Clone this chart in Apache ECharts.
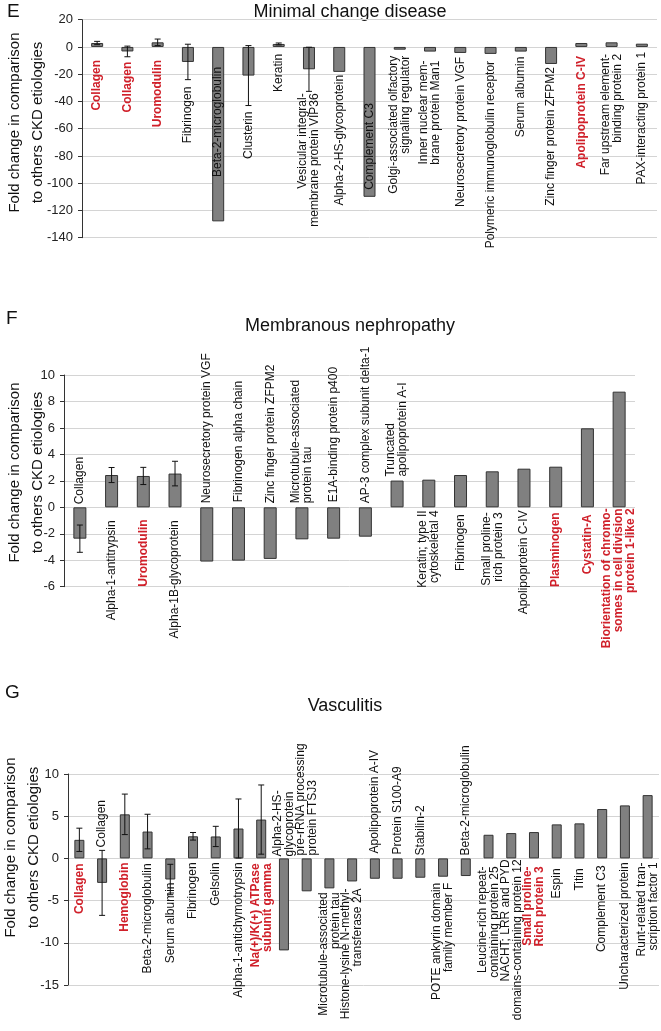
<!DOCTYPE html>
<html><head><meta charset="utf-8">
<script src="https://cdn.jsdelivr.net/npm/echarts@6/dist/echarts.min.js"></script>
<style>html,body{margin:0;padding:0;background:#fff}#c{width:661px;height:1031px}</style>
</head><body><div id="c"></div>
<script>
// ---------- Panel E: Minimal change disease ----------
const eCategories = ['Collagen','Collagen','Uromodulin','Fibrinogen','Beta-2-microglobulin','Clusterin','Keratin',
  'Vesicular integral-\nmembrane protein VIP36','Alpha-2-HS-glycoprotein','Complement C3',
  'Golgi-associated olfactory\nsignaling regulator','Inner nuclear mem-\nbrane protein Man1',
  'Neurosecretory protein VGF','Polymeric immunoglobulin receptor','Serum albumin','Zinc finger protein ZFPM2',
  'Apolipoprotein C-IV','Far upstream element-\nbinding protein 2','PAX-interacting protein 1'];
const eValues = [2.9, -3.3, 3.4, -11, -128, -21, 2.2, -16.4, -18.3, -110, -2, -3.4, -4.4, -5.1, -3.4, -12.5, 2.9, 3.4, 2.4];
const eErrors = [1.2, 3.9, 2.4, 13, 0, 22, 0.7, 16.2, 0, 0, 0, 0, 0, 0, 0, 0, 0, 0, 0];
const eRed = [0, 1, 2, 16];
const eTicks = {min: -140, max: 20, interval: 20};

// ---------- Panel F: Membranous nephropathy ----------
const fCategories = ['Collagen','Alpha-1-antitrypsin','Uromodulin','Alpha-1B-glycoprotein','Neurosecretory protein VGF',
  'Fibrinogen alpha chain','Zinc finger protein ZFPM2','Microtubule-associated\nprotein tau','E1A-binding protein p400',
  'AP-3 complex subunit delta-1','Truncated\napolipoprotein A-I','Keratin; type II\ncytoskeletal 4','Fibrinogen',
  'Small proline-\nrich protein 3','Apolipoprotein C-IV','Plasminogen','Cystatin-A',
  'Biorientation of chromo-\nsomes in cell division\nprotein 1-like 2'];
const fValues = [-2.37, 2.44, 2.37, 2.55, -4.1, -4.03, -3.9, -2.42, -2.37, -2.22, 2.02, 2.09, 2.44, 2.72, 2.92, 3.07, 5.97, 8.74];
const fErrors = [1.03, 0.57, 0.65, 0.93, 0, 0, 0, 0, 0, 0, 0, 0, 0, 0, 0, 0, 0, 0];
const fRed = [2, 15, 16, 17];
const fTicks = {min: -6, max: 10, interval: 2};

// ---------- Panel G: Vasculitis ----------
const gCategories = ['Collagen','Collagen','Hemoglobin','Beta-2-microglobulin','Serum albumin','Fibrinogen','Gelsolin',
  'Alpha-1-antichymotrypsin','Na(+)/K(+) ATPase\nsubunit gamma','Alpha-2-HS-\nglycoprotein',
  'pre-rRNA processing\nprotein FTSJ3','Microtubule-associated\nprotein tau','Histone-lysine N-methyl-\ntransferase 2A',
  'Apolipoprotein A-IV','Protein S100-A9','Stabilin-2','POTE ankyrin domain\nfamily member F','Beta-2-microglobulin',
  'Leucine-rich repeat-\ncontaining protein 25','NACHT; LRR and PYD\ndomains-containing protein 12',
  'Small proline-\nRich protein 3','Espin','Titin','Complement C3','Uncharacterized protein',
  'Runt-related tran-\nscription factor 1'];
const gValues = [2.2, -2.9, 5.22, 3.18, -2.5, 2.62, 2.6, 3.54, 4.6, -10.9, -3.9, -3.55, -2.73, -2.41, -2.41, -2.29, -2.17, -2.09, 2.8, 3.0, 3.12, 4.03, 4.15, 5.85, 6.28, 7.5];
const gErrors = [1.38, 3.85, 2.4, 2.05, 1.8, 0.45, 1.2, 3.5, 4.1, 0, 0, 0, 0, 0, 0, 0, 0, 0, 0, 0, 0, 0, 0, 0, 0, 0];
const gRed = [0, 2, 8, 20];
const gTicks = {min: -15, max: 10, interval: 5};

// ---------- label placement (layout only) ----------
const ePlace = ['b0:13','bEnd:5','b0:13','bEnd:7','inTop:20','bEnd:6','b0:7','bEnd:2','bEnd:3','inBot:7',
  'bEnd:6','bEnd:9','bEnd:4','bEnd:7','bEnd:5','bEnd:3','b0:9','b0:7','b0:5'];
const fPlace = ['a0:3','b0:13','b0:12','b0:13','a0:4','a0:5','a0:4','a0:4','a0:5','a0:4','aEnd:4',
  'b0:3','b0:7','b0:5','b0:3','b0:5','b0:7','b0:1'];
const gPlace = ['b0:5','aEnd:3','b0:4','b0:5','bBar:3','b0:4','b0:4','b0:4','b0:5','a0:2','a0:3','bBar:4','bBar:7',
  'a0:5','a0:4','a0:3','bBar:6','a0:3','b0:8','b0:1','b0:8','b0:10','b0:10','b0:7','b0:4','b0:4'];

const RED = '#d0202a';
const FONT = '"Liberation Sans", Arial, Helvetica, sans-serif';

function errorRender(values, errors) {
  return function (params, api) {
    const i = params.dataIndex;
    const e = errors[i];
    if (!e) return null;
    const v = values[i];
    const hi = api.coord([i, v + e]);
    const lo = api.coord([i, v - e]);
    const cw = 3;
    const st = {stroke: '#111', lineWidth: 1};
    return {type: 'group', children: [
      {type: 'line', shape: {x1: hi[0], y1: hi[1], x2: lo[0], y2: lo[1]}, style: st},
      {type: 'line', shape: {x1: hi[0] - cw, y1: hi[1], x2: hi[0] + cw, y2: hi[1]}, style: st},
      {type: 'line', shape: {x1: lo[0] - cw, y1: lo[1], x2: lo[0] + cw, y2: lo[1]}, style: st}
    ]};
  };
}

function labelRender(cats, values, errors, place, red) {
  return function (params, api) {
    const i = params.dataIndex;
    const v = values[i], e = errors[i] || 0;
    const p0 = api.coord([i, 0]);
    const x = p0[0], y0 = p0[1];
    const yEnd = api.coord([i, v])[1];
    const yLow = api.coord([i, Math.min(v, v - e, 0)])[1];
    const yHigh = api.coord([i, Math.max(v, v + e, 0)])[1];
    const parts = place[i].split(':');
    const m = parts[0], g = +parts[1];
    let y, align;
    if (m === 'b0') { y = y0 + g; align = 'right'; }
    else if (m === 'bEnd') { y = yLow + g; align = 'right'; }
    else if (m === 'bBar') { y = Math.max(yEnd, y0) + g; align = 'right'; }
    else if (m === 'a0') { y = y0 - g; align = 'left'; }
    else if (m === 'aEnd') { y = yHigh - g; align = 'left'; }
    else if (m === 'inTop') { y = y0 + g; align = 'right'; }
    else { y = yEnd - g; align = 'left'; }
    const isRed = red.indexOf(i) >= 0;
    return {type: 'text', x: x, y: y, rotation: Math.PI / 2, style: {
      text: cats[i], align: align, verticalAlign: 'middle',
      fill: isRed ? RED : '#111', fontSize: 12, fontWeight: isRed ? 'bold' : 'normal',
      fontFamily: FONT, lineHeight: 12
    }};
  };
}

const panels = [
  {cats: eCategories, vals: eValues, errs: eErrors, red: eRed, ticks: eTicks, place: ePlace, barWidth: 12,
   grid: {left: 82, top: 19.7, width: 575, height: 218}},
  {cats: fCategories, vals: fValues, errs: fErrors, red: fRed, ticks: fTicks, place: fPlace, barWidth: 13,
   grid: {left: 64, top: 375, width: 571, height: 211.7}},
  {cats: gCategories, vals: gValues, errs: gErrors, red: gRed, ticks: gTicks, place: gPlace, barWidth: 10,
   grid: {left: 68, top: 774, width: 591, height: 211}}
];

const grids = [], xAxes = [], yAxes = [], series = [];
panels.forEach(function (p, k) {
  grids.push(Object.assign({containLabel: false, outerBoundsMode: 'none'}, p.grid));
  xAxes.push({type: 'category', gridIndex: k, data: p.cats, axisLine: {show: false}, axisTick: {show: false},
    axisLabel: {show: false}, splitLine: {show: false}});
  yAxes.push({type: 'value', gridIndex: k, min: p.ticks.min, max: p.ticks.max, interval: p.ticks.interval,
    axisLine: {show: true, lineStyle: {color: '#333', width: 1}},
    axisTick: {show: true, length: 4, lineStyle: {color: '#333'}},
    axisLabel: {fontSize: 13, color: '#222', margin: 9, fontFamily: FONT},
    splitLine: {show: true, lineStyle: {color: '#d4d4d4', width: 1}}});
  const pts = p.vals.map(function (v, i) { return [i, v]; });
  series.push({type: 'bar', xAxisIndex: k, yAxisIndex: k, data: p.vals, barWidth: p.barWidth, silent: true,
    itemStyle: {color: '#808080', borderColor: '#333', borderWidth: 1}, z: 2});
  series.push({type: 'custom', xAxisIndex: k, yAxisIndex: k, data: pts, encode: {x: 0, y: 1}, clip: false, silent: true,
    renderItem: errorRender(p.vals, p.errs), z: 3});
  series.push({type: 'custom', xAxisIndex: k, yAxisIndex: k, data: pts, encode: {x: 0, y: 1}, clip: false, silent: true,
    renderItem: labelRender(p.cats, p.vals, p.errs, p.place, p.red), z: 4});
});

function txt(x, y, text, size, extra) {
  return {type: 'text', x: x, y: y, style: Object.assign({text: text, fontSize: size, fontFamily: FONT, fill: '#111',
    align: 'center', verticalAlign: 'middle'}, extra || {})};
}
const axisName = 'Fold change in comparison\nto others CKD etiologies';
const graphic = [
  txt(7, 11.5, 'E', 19, {align: 'left'}),
  txt(350, 12, 'Minimal change disease', 18),
  Object.assign(txt(26.5, 122.5, axisName, 15, {lineHeight: 23}), {rotation: Math.PI / 2}),
  txt(6, 319, 'F', 19, {align: 'left'}),
  txt(350, 326.5, 'Membranous nephropathy', 18),
  Object.assign(txt(26, 472.5, axisName, 15, {lineHeight: 23}), {rotation: Math.PI / 2}),
  txt(5, 692.5, 'G', 19, {align: 'left'}),
  txt(345, 706.5, 'Vasculitis', 18),
  Object.assign(txt(22, 847.5, axisName, 15, {lineHeight: 23}), {rotation: Math.PI / 2})
];

const chart = echarts.init(document.getElementById('c'), null, {renderer: 'canvas'});
chart.setOption({
  animation: false,
  backgroundColor: '#fff',
  grid: grids, xAxis: xAxes, yAxis: yAxes, series: series, graphic: graphic
});
</script></body></html>
